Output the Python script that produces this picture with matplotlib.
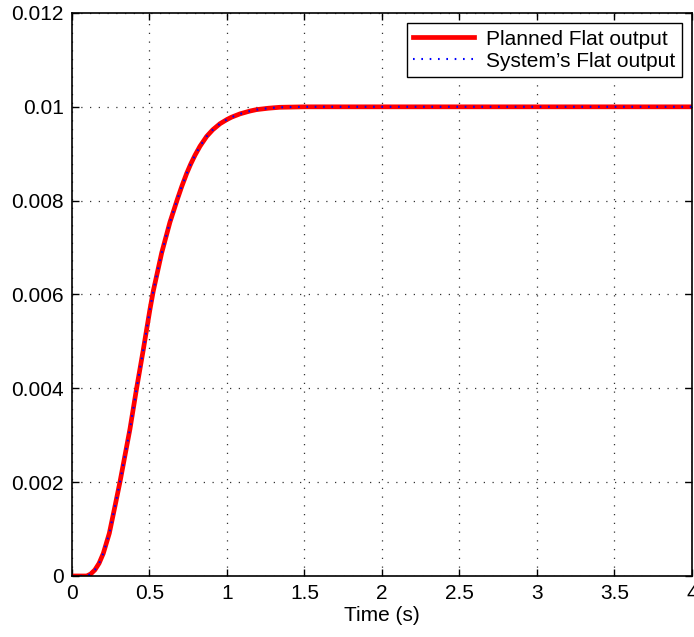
import matplotlib
matplotlib.use('Agg')
import matplotlib.pyplot as plt

# values
time = [0, 0.05, 0.095, 0.12, 0.148, 0.175, 0.202, 0.241, 0.277, 0.310, 0.342,
        0.374, 0.417, 0.46, 0.503, 0.525, 0.579, 0.632, 0.68, 0.708, 0.74,
        0.766, 0.794, 0.826, 0.869, 0.908, 0.955, 1.0, 1.03, 1.084, 1.148,
        1.19, 1.266, 1.34, 1.5, 2.0, 4.0]
flat_out = [0, 0, 0, 0.00004, 0.00013, 0.00027, 0.00048, 0.00091, 0.00148,
            0.00201, 0.00257, 0.00313, 0.0040, 0.00482, 0.00568, 0.00608,
            0.00689, 0.00754, 0.00803, 0.00830, 0.00858, 0.00878, 0.00897,
            0.00916, 0.00937, 0.00951, 0.00964, 0.00973, 0.00978, 0.00985,
            0.00991, 0.00994, 0.00997, 0.00999, 0.0100, 0.0100, 0.0100]

xticks = [0, 0.5, 1, 1.5, 2, 2.5, 3, 3.5, 4]
xticklabels = ['0', '0.5', '1', '1.5', '2', '2.5', '3', '3.5', '4']
yticks = [0, 0.002, 0.004, 0.006, 0.008, 0.01, 0.012]
yticklabels = ['0', '0.002', '0.004', '0.006', '0.008', '0.01', '0.012']

plt.rcParams['font.family'] = ['Liberation Sans', 'DejaVu Sans']
fontsize = 15

fig = plt.figure(figsize=(6.94, 6.37), dpi=100)
ax = fig.add_axes([0.1037, 0.0958, 0.8934, 0.8838])

ax.plot(time, flat_out, '-', color='red', lw=3.4, label='Planned Flat output')
ax.plot(time, flat_out, color='blue', lw=1.5, linestyle=(0, (0.8, 3.2)),
        label='System\u2019s Flat output')

ax.set_xlim(0, 4)
ax.set_ylim(0, 0.012)
ax.set_xticks(xticks)
ax.set_xticklabels(xticklabels)
ax.set_yticks(yticks)
ax.set_yticklabels(yticklabels)
ax.tick_params(direction='in', top=True, right=True, length=5, width=1,
               labelsize=fontsize, pad=6)
for s in ax.spines.values():
    s.set_linewidth(1.2)

ax.grid(True, color='0.2', linestyle=(0, (1, 6)), lw=0.9)
ax.set_axisbelow(True)
ax.set_xlabel('Time (s)', fontsize=fontsize, labelpad=2)

leg = ax.legend(loc='upper right', fontsize=fontsize, fancybox=False,
                framealpha=1, edgecolor='black', handlelength=2.9,
                borderaxespad=0.5, borderpad=0.3, labelspacing=0.15,
                handletextpad=0.6)
leg.get_frame().set_linewidth(1.0)

fig.savefig('out.png', dpi=100)
